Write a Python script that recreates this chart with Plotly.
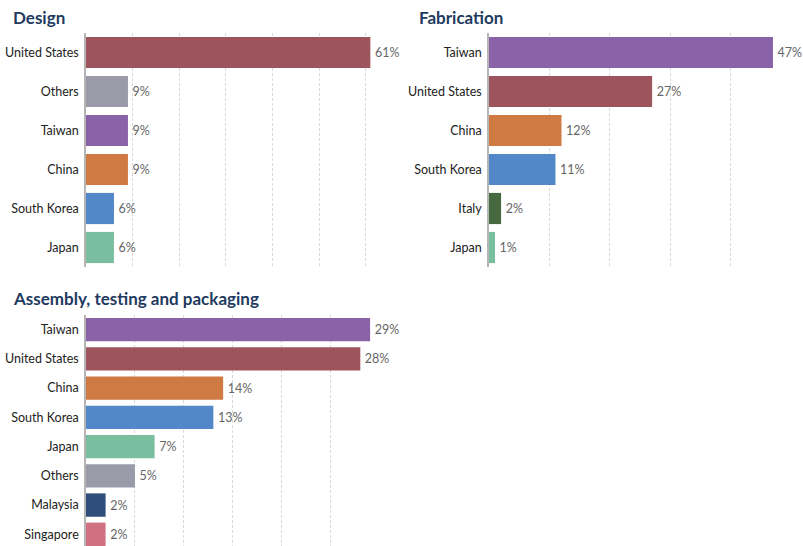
import plotly.graph_objects as go

W, H = 803, 546

design_countries = ["United States", "Others", "Taiwan", "China", "South Korea", "Japan"]
design_values = [61, 9, 9, 9, 6, 6]

fab_countries = ["Taiwan", "United States", "China", "South Korea", "Italy", "Japan"]
fab_values = [47, 27, 12, 11, 2, 1]

atp_countries = ["Taiwan", "United States", "China", "South Korea", "Japan", "Others", "Malaysia", "Singapore"]
atp_values = [29, 28, 14, 13, 7, 5, 2, 2]

colors = {
    "United States": "#9e545d",
    "Others": "#9a9aa8",
    "Taiwan": "#8a62a8",
    "China": "#cf7a42",
    "South Korea": "#5287c8",
    "Japan": "#7abea0",
    "Italy": "#46693f",
    "Malaysia": "#2f4f7a",
    "Singapore": "#d07080",
}

FONT = "Lato"
fig = go.Figure()

panels = [
    (design_countries, design_values, "x", "y", [86, 375], [33, 267], [0, 62], 10, [5.5, -0.5]),
    (fab_countries, fab_values, "x2", "y2", [489, 779], [33, 267], [0, 48], 10, [5.5, -0.5]),
    (atp_countries, atp_values, "x3", "y3", [86, 375], [315, 546], [0, 29.5], 5, [7.4, -0.5]),
]

for i, (cats, vals, xa, ya, xpx, ypx, xr, dt, yr) in enumerate(panels):
    fig.add_trace(go.Bar(
        x=vals, y=cats, orientation="h", xaxis=xa, yaxis=ya,
        marker=dict(color=[colors[c] for c in cats], line=dict(width=0)),
        texttemplate="\u2009%{x}%", textposition="outside", cliponaxis=False,
        constraintext="none",
        textfont=dict(family=FONT, size=12.5, color="#666666"),
        width=0.8, showlegend=False, hoverinfo="skip",
    ))
    sfx = "" if i == 0 else str(i + 1)
    fig.layout["xaxis" + sfx] = dict(
        domain=[xpx[0] / W, xpx[1] / W], range=xr, dtick=dt, tick0=0,
        showgrid=True, gridcolor="#d9d9d9", griddash="3px,2px", gridwidth=1,
        showticklabels=False, zeroline=False, showline=False, anchor="y" + sfx,
        fixedrange=True,
    )
    fig.layout["yaxis" + sfx] = dict(
        domain=[1 - ypx[1] / H, 1 - ypx[0] / H], range=yr, type="category",
        categoryorder="array", categoryarray=cats,
        showline=True, linecolor="#b5b5b5", linewidth=1.5, ticks="",
        ticklabelstandoff=3,
        tickfont=dict(family=FONT, size=12.5, color="#222222"),
        showgrid=False, anchor="x" + sfx, fixedrange=True,
    )

titles = [("Design", 11, 18), ("Fabrication", 417, 18), ("Assembly, testing and packaging", 11, 298)]
for t, x, y in titles:
    fig.add_annotation(
        text=t, xref="paper", yref="paper", x=x / W, y=1 - y / H,
        xanchor="left", yanchor="middle", showarrow=False,
        font=dict(family=FONT, size=17, color="#1f3a5f", weight=700),
    )

fig.update_layout(
    width=W, height=H, margin=dict(l=0, r=0, t=0, b=0),
    paper_bgcolor="white", plot_bgcolor="white", bargap=0.2,
)

fig.write_html("out.html")
